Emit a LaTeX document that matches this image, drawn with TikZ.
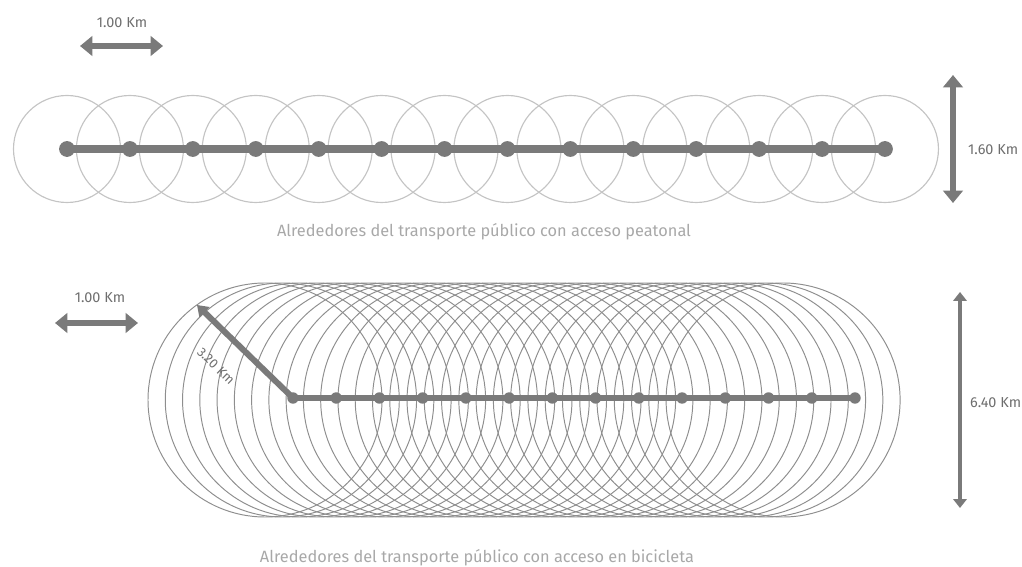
\documentclass[tikz,border=0pt]{standalone}
\usepackage{fontspec}
\setmainfont{Fira Sans}
\usetikzlibrary{arrows.meta}

\definecolor{linea}{HTML}{7A7A7A}
\definecolor{ringtop}{HTML}{C4C4C4}
\definecolor{ringbot}{HTML}{8E8E8E}
\definecolor{txtgray}{HTML}{6E6E6E}
\definecolor{capgray}{HTML}{A8A8A8}

\begin{document}
\begin{tikzpicture}[x=0.02cm, y=-0.02cm,
    every node/.style={font=\fontsize{8.2}{9}\selectfont, text=txtgray},
    st/.style={circle, fill=linea, minimum size=9pt, inner sep=0pt},
    stb/.style={circle, fill=linea, minimum size=6.5pt, inner sep=0pt},
    via/.style={line width=4.5pt, draw=linea},
    viab/.style={line width=3.4pt, draw=linea},
    rad/.style={draw=ringtop, line width=0.65pt},
    radb/.style={draw=ringbot, line width=0.55pt},
    dim/.style={{Triangle[width=11pt,length=7pt]}-{Triangle[width=11pt,length=7pt]},
                line width=3.5pt, draw=linea},
    dimthin/.style={{Triangle[width=7.5pt,length=5pt]}-{Triangle[width=7.5pt,length=5pt]},
                line width=2.6pt, draw=linea},
    caption/.style={font=\fontsize{9.3}{11}\selectfont, text=capgray},
  ]
  \useasboundingbox (0,0) rectangle (1022,567);

  % walking access
  \foreach \i in {0,...,13} \coordinate (p\i) at ({67+62.92*\i},149);
  \foreach \i in {0,...,13} \draw[rad] (p\i) circle[radius=53.5];
  \draw[via] (p0) -- (p13);
  \foreach \i in {0,...,13} \node[st] (ps\i) at (p\i) {};

  \coordinate (wl) at (80,46);
  \coordinate (wr) at (163,46);
  \draw[dim] (wl) -- (wr);
  \node (wkm) at (122,23) {1.00 Km};
  \coordinate (wt) at (953,75);
  \coordinate (wb) at (953,203);
  \draw[dim] (wt) -- (wb);
  \node[anchor=west] (wh) at (962,150) {1.60 Km};
  \node[caption] (wcap) at (484,232) {Alrededores del transporte público con acceso peatonal};

  % bicycle access
  \foreach \j in {0,...,30} \draw[radb] ({265+17.27*\j},400) circle[radius=117];
  \foreach \i in {0,...,13} \coordinate (b\i) at ({293+43.23*\i},398);
  \coordinate (tip) at (197,305);
  \draw[viab, -{Triangle[width=8pt,length=6pt]}] (b0) -- (tip);
  \draw[viab] (b0) -- (b13);
  \foreach \i in {0,...,13} \node[stb] (bs\i) at (b\i) {};
  \node[rotate=-44, font=\fontsize{7.5}{8}\selectfont] (rkm) at (216,366) {3.20 Km};

  \coordinate (bl) at (55,323);
  \coordinate (br) at (138,323);
  \draw[dim] (bl) -- (br);
  \node (bkm) at (100,298) {1.00 Km};
  \coordinate (bt) at (960,292);
  \coordinate (bb) at (960,508);
  \draw[dimthin] (bt) -- (bb);
  \node[anchor=west] (bh) at (964,403) {6.40 Km};
  \node[caption] (bcap) at (477,558) {Alrededores del transporte público con acceso en bicicleta};
\end{tikzpicture}
\end{document}
